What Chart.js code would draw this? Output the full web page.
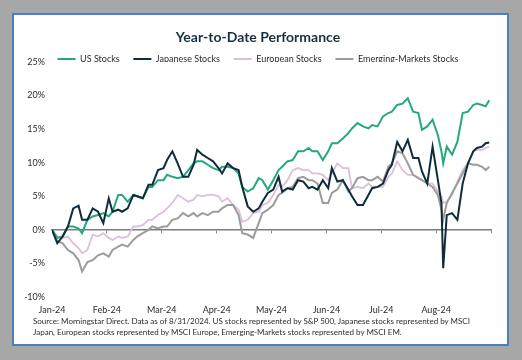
<!DOCTYPE html>
<html>
<head>
<meta charset="utf-8">
<script src="https://cdn.jsdelivr.net/npm/chart.js@4/dist/chart.umd.min.js"></script>
<style>
  html, body { margin: 0; padding: 0; background: #a7a7a7; }
  body { width: 522px; height: 360px; position: relative; overflow: hidden; }
  #panel {
    position: absolute; left: 12px; top: 13px; width: 493px; height: 329px;
    background: #fff; border: 2px solid #4a80bf;
  }
  #chartWrap { position: absolute; left: 0; top: 0; width: 522px; height: 360px; }
  #footnote {
    position: absolute; left: 33px; top: 316px;
    font: 8px/11px Lato, sans-serif; color: #2b2b2b; white-space: nowrap;
  }
</style>
</head>
<body>
<div id="panel"></div>
<div id="chartWrap"><canvas id="perfChart" width="522" height="360"></canvas></div>
<div id="footnote"></div>
<script>
// Month tick labels (one per month start)
const monthLabels = ['Jan-24', 'Feb-24', 'Mar-24', 'Apr-24', 'May-24', 'Jun-24', 'Jul-24', 'Aug-24'];
const daysInMonth = [31, 29, 31, 30, 31, 30, 31, 31];

// Sample dates (MM-DD, 2024)
const dates = [
  '01-01', '01-04', '01-07', '01-10', '01-13', '01-16', '01-18', '01-21', '01-24', '01-27', '01-30',
  '02-02', '02-04', '02-07', '02-09', '02-12', '02-15', '02-17', '02-20', '02-23', '02-25', '02-28',
  '03-02', '03-04', '03-07', '03-10', '03-13', '03-16', '03-19', '03-21', '03-24', '03-27', '03-30',
  '04-02', '04-04', '04-07', '04-10', '04-13', '04-15', '04-18', '04-21', '04-24', '04-26', '04-29',
  '05-02', '05-05', '05-07', '05-10', '05-13', '05-16', '05-19', '05-22', '05-24', '05-27', '05-30',
  '06-02', '06-04', '06-07', '06-10', '06-13', '06-15', '06-18', '06-21', '06-24', '06-26', '06-29',
  '07-02', '07-05', '07-07', '07-10', '07-13', '07-16', '07-19', '07-22', '07-24', '07-27', '07-30',
  '08-02', '08-04', '08-05', '08-07', '08-10', '08-13', '08-16', '08-19', '08-22', '08-24', '08-27', '08-29', '08-31'
];

// YTD returns, %
const usStocks = [
  0, -1.2, -1.0, 0.5, 0.5, 0.2, -0.5, 1.5, 2.0, 2.2, 2.5,
  2.0, 2.7, 5.2, 5.2, 4.2, 5.2, 5.0, 4.7, 6.4, 6.4, 7.4,
  7.4, 8.2, 7.9, 7.7, 7.9, 8.9, 9.9, 10.2, 10.2, 9.7, 9.2,
  8.9, 9.4, 9.4, 9.2, 8.4, 6.4, 5.7, 6.2, 7.7, 7.4, 6.0,
  7.4, 8.9, 9.4, 10.2, 10.4, 11.7, 11.7, 12.2, 11.7, 11.7, 10.4,
  11.7, 12.9, 12.9, 13.6, 14.4, 15.1, 15.9, 15.4, 15.1, 15.6, 15.4,
  16.9, 17.4, 17.6, 18.6, 18.8, 19.6, 17.6, 17.4, 14.9, 15.4, 16.4,
  14.1, 11.7, 9.9, 12.4, 11.2, 13.1, 17.4, 17.6, 18.6, 18.8, 18.6, 18.4, 19.3
];
const japanStocks = [
  0, -2.0, -1.0, 0.5, 3.2, 3.6, 1.5, 1.5, 3.2, 2.7, 1.0,
  4.7, 2.7, 3.0, 2.7, 3.2, 5.2, 5.0, 4.7, 6.7, 6.7, 8.9,
  9.2, 10.4, 11.7, 9.9, 7.9, 7.9, 9.7, 11.9, 11.2, 10.7, 10.2,
  9.2, 8.4, 9.9, 9.2, 8.9, 6.4, 3.5, 2.7, 3.2, 4.2, 5.5,
  6.0, 7.9, 5.7, 6.2, 6.0, 7.4, 7.2, 6.2, 6.4, 6.0, 7.4,
  6.2, 9.2, 7.2, 7.4, 6.0, 5.0, 3.7, 3.7, 5.2, 6.2, 6.4,
  6.9, 8.9, 9.7, 13.1, 11.7, 13.4, 10.7, 10.7, 8.7, 6.9, 12.4,
  7.4, 4.0, -5.7, 2.2, 2.5, 1.5, 6.9, 9.9, 11.7, 12.2, 12.4, 12.9, 13.0
];
const europeStocks = [
  0, -1.0, -1.2, -1.0, -2.0, -2.7, -3.5, -3.0, -0.7, -1.0, -0.5,
  -1.2, -1.5, -1.0, -1.2, -1.0, 0.5, 0.5, 0.7, 1.5, 1.5, 2.2,
  2.7, 3.2, 4.0, 5.2, 4.7, 4.2, 4.5, 5.2, 5.0, 5.2, 5.2,
  5.0, 4.2, 4.7, 3.7, 3.0, 1.2, 1.5, 2.5, 2.7, 3.7, 4.0,
  5.2, 6.7, 6.4, 7.4, 8.9, 9.2, 8.9, 8.9, 8.4, 8.4, 8.2,
  7.4, 8.4, 9.9, 9.2, 9.2, 6.2, 6.4, 6.2, 6.9, 6.4, 6.4,
  6.4, 7.9, 8.4, 10.2, 8.9, 8.2, 8.2, 7.7, 7.4, 6.9, 6.9,
  5.7, 5.0, 4.0, 4.2, 5.2, 7.2, 8.9, 9.9, 11.7, 11.9, 11.9, 12.2, 12.4
];
const emStocks = [
  0, -1.7, -2.0, -3.0, -3.5, -4.5, -6.2, -4.8, -4.5, -3.8, -3.5,
  -4.0, -3.0, -2.5, -2.2, -2.5, -1.5, -1.0, -0.5, 0.0, 0.5, 0.2,
  0.5, 0.5, 1.5, 1.7, 2.5, 2.0, 2.5, 2.0, 2.5, 2.2, 2.7,
  2.7, 3.2, 3.7, 3.7, 2.2, -0.5, -0.7, -1.2, 1.0, 2.5, 3.0,
  3.7, 5.2, 5.5, 6.2, 6.4, 7.7, 7.9, 7.4, 7.4, 6.9, 4.0,
  4.0, 5.5, 6.0, 7.4, 5.7, 6.2, 7.7, 7.9, 7.4, 7.4, 7.9,
  7.2, 9.4, 9.9, 11.7, 11.4, 9.9, 8.2, 7.7, 7.4, 6.9, 6.4,
  5.2, 3.0, 1.5, 4.0, 5.5, 6.9, 8.4, 9.9, 9.7, 9.7, 9.4, 8.9, 9.4
];

const footnote = [
  'Source: Morningstar Direct. Data as of 8/31/2024. US stocks represented by S&P 500, Japanese stocks represented by MSCI',
  'Japan, European stocks represented by MSCI Europe, Emerging-Markets stocks represented by MSCI EM.'
];

// Month index + fraction of month, so every month gets equal width
function datePos(d) {
  const [m, day] = d.split('-').map(Number);
  return (m - 1) + (day - 1) / daysInMonth[m - 1];
}

function toPoints(values) {
  return values.map((v, i) => ({ x: datePos(dates[i]), y: v }));
}

function lineSet(label, values, color, width, order) {
  return {
    label,
    data: toPoints(values),
    borderColor: color,
    backgroundColor: color,
    borderWidth: width,
    pointRadius: 0,
    tension: 0,
    order
  };
}

// Legend items: thin line swatch, extra space after each label except the last
function legendLabels(chart) {
  const items = Chart.defaults.plugins.legend.labels.generateLabels(chart)
    .sort((a, b) => a.datasetIndex - b.datasetIndex);
  return items.map((item, i) => ({
    ...item,
    lineWidth: 0,
    text: i < items.length - 1 ? item.text + '    ' : item.text
  }));
}

document.getElementById('footnote').innerHTML = footnote.map(line => line.replace(/&/g, '&amp;')).join('<br>');

const font = { family: 'Lato, "DejaVu Sans", sans-serif', size: 9 };
const textColor = '#2b2b2b';

new Chart(document.getElementById('perfChart'), {
  type: 'line',
  data: {
    datasets: [
      lineSet('US Stocks', usStocks, '#25a97c', 2, 1),
      lineSet('Japanese Stocks', japanStocks, '#0e2c3b', 2, 0),
      lineSet('European Stocks', europeStocks, '#dcbfdd', 1.8, 3),
      lineSet('Emerging-Markets Stocks', emStocks, '#9c9c9c', 2, 2)
    ]
  },
  options: {
    responsive: false,
    animation: false,
    devicePixelRatio: 1,
    layout: { padding: { left: 25, right: 31, top: 20, bottom: 43 } },
    plugins: {
      title: {
        display: true,
        text: 'Year-to-Date Performance',
        color: '#17303f',
        font: { family: 'Lato, sans-serif', size: 14, weight: 'bold' },
        padding: { top: 8.6, bottom: 4.6 }
      },
      legend: {
        display: true,
        maxHeight: 12,
        labels: {
          font,
          color: textColor,
          boxWidth: 18,
          boxHeight: 2,
          padding: 4.5,
          generateLabels: legendLabels
        }
      },
      tooltip: { enabled: false }
    },
    scales: {
      x: {
        type: 'linear',
        min: 0,
        max: 8,
        afterBuildTicks: scale => { scale.ticks = monthLabels.map((_, i) => ({ value: i })); },
        afterFit: scale => { scale.height = 20; },
        ticks: { font, color: textColor, padding: 7.5, maxRotation: 0, autoSkip: false, callback: v => monthLabels[v] },
        grid: { display: false, drawTicks: false },
        border: { display: false }
      },
      zero: {
        type: 'linear',
        axis: 'x',
        position: { y: 0 },
        min: 0,
        max: 8,
        afterBuildTicks: scale => { scale.ticks = monthLabels.concat('').map((_, i) => ({ value: i })); },
        ticks: { display: false },
        grid: { drawOnChartArea: false, drawTicks: true, tickLength: 3, color: '#8a8a8a' },
        border: { color: '#7c7c7c', width: 1.5 }
      },
      y: {
        min: -10,
        max: 25,
        afterFit: scale => { scale.width = 27; },
        ticks: { font, color: textColor, stepSize: 5, padding: 7, callback: v => v + '%' },
        grid: { display: false, drawTicks: false },
        border: { display: false }
      }
    }
  }
});
</script>
</body>
</html>
